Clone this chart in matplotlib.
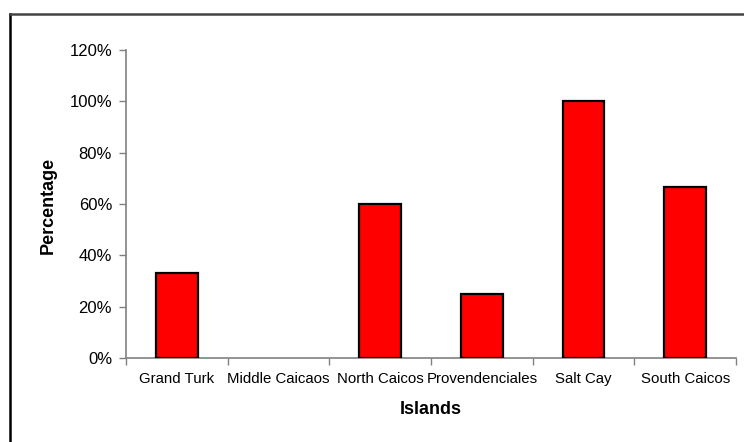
import matplotlib
matplotlib.use("Agg")
import matplotlib.pyplot as plt
from matplotlib.lines import Line2D
from matplotlib.ticker import FuncFormatter, FixedLocator

categories = ["Grand Turk", "Middle Caicaos", "North Caicos", "Provendenciales", "Salt Cay", "South Caicos"]
values = [0.333, 0.0, 0.60, 0.25, 1.00, 0.667]
yticks = [0, 0.2, 0.4, 0.6, 0.8, 1.0, 1.2]

plt.rcParams['font.family'] = ['Liberation Sans', 'DejaVu Sans']

W, H = 744, 442
fig = plt.figure(figsize=(W/100, H/100), dpi=100)
fig.patch.set_facecolor('white')

ax = fig.add_axes([126/W, 1-358/H, (736-126)/W, (358-50)/H])
x = list(range(len(categories)))
lws = [1.6 if v > 0 else 0 for v in values]
ax.bar(x, values, width=0.41, color='#ff0000', edgecolor='black', linewidth=lws, zorder=3)

ax.set_xlim(-0.5, len(categories)-0.5)
ax.set_ylim(0, 1.2)
ax.set_yticks(yticks)
ax.yaxis.set_major_formatter(FuncFormatter(lambda v, p: f"{v*100:.0f}%"))

ax.set_xticks(x)
ax.set_xticklabels(categories)
ax.xaxis.set_minor_locator(FixedLocator([i - 0.5 for i in range(len(categories)+1)]))
ax.tick_params(axis='x', which='major', length=0, pad=10, labelsize=10.8, colors='black')
ax.tick_params(axis='x', which='minor', length=5, width=1, color='#808080', direction='out')
ax.tick_params(axis='y', which='major', length=5, width=1, color='#808080', direction='out', pad=5, labelsize=12)

for s in ['top', 'right']:
    ax.spines[s].set_visible(False)
for s in ['left', 'bottom']:
    ax.spines[s].set_color('#808080')
    ax.spines[s].set_linewidth(1.2)

fig.text(431/W, 1-410/H, "Islands", ha='center', va='center', fontsize=13, fontweight='bold')
fig.text(48/W, 1-205/H, "Percentage", ha='center', va='center', rotation=90, fontsize=13, fontweight='bold')

# outer frame (cropped on right and bottom)
fig.add_artist(Line2D([10/W, 10/W], [0, 1-14/H], transform=fig.transFigure, color='black', linewidth=1.8))
fig.add_artist(Line2D([10/W, 1], [1-14/H, 1-14/H], transform=fig.transFigure, color='#444444', linewidth=1.8))

fig.savefig("out.png", dpi=100, facecolor='white')
